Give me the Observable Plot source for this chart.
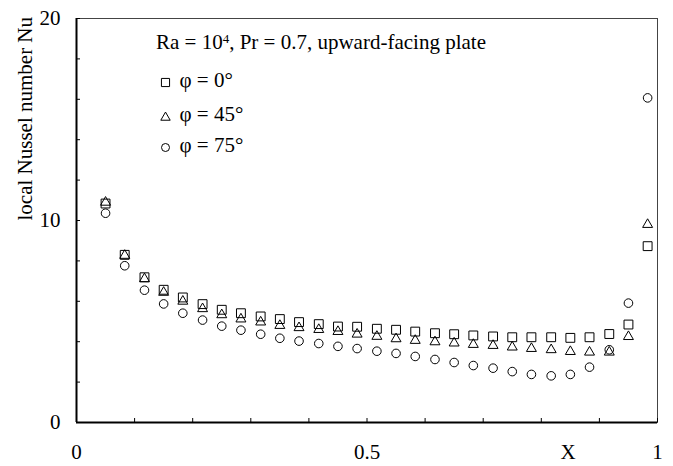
<!DOCTYPE html>
<html>
<head>
<meta charset="utf-8">
<script src="https://cdn.jsdelivr.net/npm/d3@7"></script>
<script src="https://cdn.jsdelivr.net/npm/@observablehq/plot@0.6"></script>
<style>
  html, body { margin: 0; padding: 0; background: white; }
  #wrap { position: relative; width: 673px; height: 466px; font-family: "Liberation Serif", serif; }
  #title { position: absolute; left: 156px; top: 32px; font-size: 21px; line-height: 21px; white-space: nowrap; color: #000; }
  #title sup { font-size: 0.62em; position: relative; top: -0.5em; vertical-align: baseline; line-height: 0; }
</style>
</head>
<body>
<div id="wrap">
  <div id="chart"></div>
  <div id="title">Ra = 10<sup>4</sup>, Pr = 0.7, upward-facing plate</div>
</div>
<script>
// X positions (dimensionless coordinate X)
const xValues = [0.05, 0.083, 0.117, 0.15, 0.183, 0.217, 0.25, 0.283, 0.317, 0.35,
  0.383, 0.417, 0.45, 0.483, 0.517, 0.55, 0.583, 0.617, 0.65, 0.683,
  0.717, 0.75, 0.783, 0.817, 0.85, 0.883, 0.917, 0.95, 0.983];
// local Nusselt number, phi = 0°
const nuPhi0 = [10.84, 8.30, 7.19, 6.57, 6.19, 5.86, 5.58, 5.41, 5.25, 5.12,
  4.97, 4.87, 4.75, 4.74, 4.64, 4.59, 4.50, 4.42, 4.37, 4.31,
  4.26, 4.22, 4.22, 4.22, 4.19, 4.22, 4.38, 4.85, 8.73];
// phi = 45°
const nuPhi45 = [10.9, 8.27, 7.11, 6.44, 6.0, 5.63, 5.33, 5.12, 4.97, 4.80,
  4.69, 4.60, 4.50, 4.37, 4.26, 4.14, 4.06, 3.99, 3.93, 3.86,
  3.81, 3.73, 3.66, 3.60, 3.51, 3.48, 3.48, 4.25, 9.8];
// phi = 75°
const nuPhi75 = [10.36, 7.76, 6.55, 5.87, 5.41, 5.07, 4.77, 4.57, 4.37, 4.17,
  4.03, 3.91, 3.77, 3.66, 3.53, 3.42, 3.27, 3.12, 2.97, 2.82,
  2.69, 2.52, 2.38, 2.31, 2.38, 2.74, 3.6, 5.91, 16.07];

const seriesNames = ["φ = 0°", "φ = 45°", "φ = 75°"];
const yTickValues = [0, 2, 4, 6, 8, 10, 12, 14, 16, 18, 20];
const yLabelValues = [0, 10, 20];
const xTickValues = [0, 0.1, 0.2, 0.3, 0.4, 0.5, 0.6, 0.7, 0.8, 0.9, 1];
const xLabelValues = [0, 0.5, 1];
const xAxisTitle = "X";
const yAxisTitle = "local Nussel number Nu";

const rows0 = xValues.map((x, i) => ({x, nu: nuPhi0[i]}));
const rows45 = xValues.map((x, i) => ({x, nu: nuPhi45[i]}));
const rows75 = xValues.map((x, i) => ({x, nu: nuPhi75[i]}));

const symbolStyle = [
  {symbol: "square", r: 5},
  {symbol: "triangle", r: 3.7},
  {symbol: "circle", r: 4.3}
];
const legendSymbolR = [4.6, 3.5, 4.0];
const legendDy = [64, 99, 129];
const legendTextDy = [80, 114, 145];

const legendMarks = [];
seriesNames.forEach((name, i) => {
  legendMarks.push(Plot.dot([name], {frameAnchor: "top-left", dx: 89, dy: legendDy[i],
    symbol: symbolStyle[i].symbol, r: legendSymbolR[i], stroke: "black", fill: "white", strokeWidth: 1}));
  legendMarks.push(Plot.text([name], {frameAnchor: "top-left", dx: 103, dy: legendTextDy[i] - 18,
    text: d => d, textAnchor: "start", lineAnchor: "middle", fontSize: 21, fill: "black"}));
});

const chart = Plot.plot({
  width: 673,
  height: 466,
  marginTop: 18,
  marginRight: 16,
  marginBottom: 44,
  marginLeft: 76,
  style: {fontFamily: "'Liberation Serif', serif", fontSize: "21px", background: "white", color: "black", overflow: "visible"},
  x: {domain: [0, 1]},
  y: {domain: [0, 20]},
  marks: [
    Plot.frame({stroke: "#444", strokeWidth: 1}),
    Plot.ruleX([0], {stroke: "black", strokeWidth: 2}),
    Plot.ruleY([0], {stroke: "black", strokeWidth: 2}),
    Plot.axisY(yTickValues, {tickSize: -4, tickFormat: () => "", label: null, stroke: "black"}),
    Plot.axisY(yLabelValues, {tickSize: 0, tickPadding: 16, label: null, fontSize: 21, fill: "black"}),
    Plot.axisX(xTickValues, {tickSize: -4, tickFormat: () => "", label: null, stroke: "black"}),
    Plot.axisX(xLabelValues, {tickSize: 0, tickPadding: 22, label: null, fontSize: 21, fill: "black", tickFormat: d => String(d)}),
    Plot.text([xAxisTitle], {frameAnchor: "bottom", dx: 201, dy: 22, lineAnchor: "top", text: d => d, fontSize: 21, fill: "black"}),
    Plot.text([yAxisTitle], {frameAnchor: "left", dx: -51, rotate: -90, text: d => d, fontSize: 21, fill: "black"}),
    Plot.dot(rows0, {x: "x", y: "nu", symbol: symbolStyle[0].symbol, r: symbolStyle[0].r, stroke: "black", fill: "white", strokeWidth: 1}),
    Plot.dot(rows45, {x: "x", y: "nu", symbol: symbolStyle[1].symbol, r: symbolStyle[1].r, stroke: "black", fill: "none", strokeWidth: 1}),
    Plot.dot(rows75, {x: "x", y: "nu", symbol: symbolStyle[2].symbol, r: symbolStyle[2].r, stroke: "black", fill: "none", strokeWidth: 1}),
    ...legendMarks
  ]
});
document.getElementById("chart").appendChild(chart);
</script>
</body>
</html>
